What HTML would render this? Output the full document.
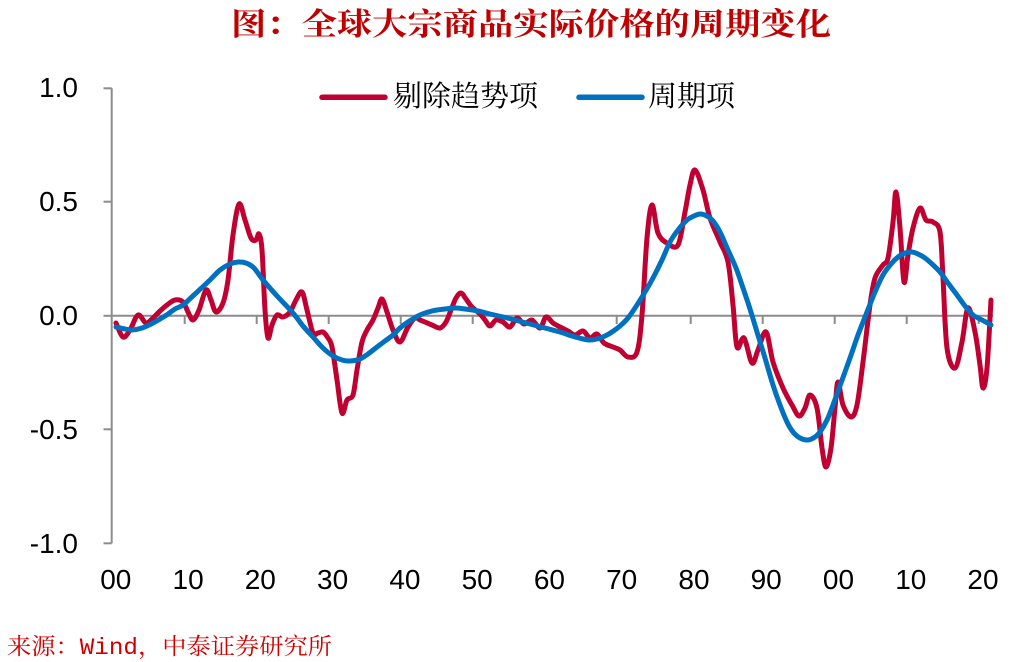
<!DOCTYPE html>
<html><head><meta charset="utf-8"><style>
html,body{margin:0;padding:0;background:#fff;}
svg{display:block;}
</style></head><body>
<svg id="chart" width="1011" height="662" viewBox="0 0 1011 662" xmlns="http://www.w3.org/2000/svg">
<rect width="1011" height="662" fill="#fff"/>
<text x="231" y="35" font-family="'Liberation Serif','Noto Serif CJK SC',serif" font-weight="bold" font-size="31" fill="#C00000" textLength="600" lengthAdjust="spacingAndGlyphs">图：全球大宗商品实际价格的周期变化</text>
<g stroke="#8c8c8c" stroke-width="2" fill="none">
<line x1="111.7" y1="88.3" x2="111.7" y2="543.3"/>
<line x1="103.5" y1="88.3" x2="111.7" y2="88.3"/>
<line x1="103.5" y1="201.7" x2="111.7" y2="201.7"/>
<line x1="103.5" y1="315.8" x2="111.7" y2="315.8"/>
<line x1="103.5" y1="429.3" x2="111.7" y2="429.3"/>
<line x1="103.5" y1="543.3" x2="111.7" y2="543.3"/>
<line x1="111.7" y1="315.8" x2="993" y2="315.8"/>
<line x1="184.7" y1="315.8" x2="184.7" y2="324"/>
<line x1="256.7" y1="315.8" x2="256.7" y2="324"/>
<line x1="328.7" y1="315.8" x2="328.7" y2="324"/>
<line x1="400.7" y1="315.8" x2="400.7" y2="324"/>
<line x1="472.7" y1="315.8" x2="472.7" y2="324"/>
<line x1="544.7" y1="315.8" x2="544.7" y2="324"/>
<line x1="616.7" y1="315.8" x2="616.7" y2="324"/>
<line x1="690.7" y1="315.8" x2="690.7" y2="324"/>
<line x1="762.7" y1="315.8" x2="762.7" y2="324"/>
<line x1="834.7" y1="315.8" x2="834.7" y2="324"/>
<line x1="906.7" y1="315.8" x2="906.7" y2="324"/>
<line x1="978.7" y1="315.8" x2="978.7" y2="324"/>
</g>
<g font-family="'Liberation Sans',Arial,sans-serif" font-size="28" fill="#000" text-anchor="end">
<text x="78" y="97">1.0</text>
<text x="78" y="211">0.5</text>
<text x="78" y="325">0.0</text>
<text x="78" y="439">-0.5</text>
<text x="78" y="553">-1.0</text>
</g>
<g font-family="'Liberation Sans',Arial,sans-serif" font-size="28" fill="#000" text-anchor="middle">
<text x="115.8" y="589">00</text>
<text x="188.1" y="589">10</text>
<text x="260.3" y="589">20</text>
<text x="332.6" y="589">30</text>
<text x="404.9" y="589">40</text>
<text x="477.2" y="589">50</text>
<text x="549.4" y="589">60</text>
<text x="621.7" y="589">70</text>
<text x="694" y="589">80</text>
<text x="766.2" y="589">90</text>
<text x="838.5" y="589">00</text>
<text x="910.8" y="589">10</text>
<text x="983" y="589">20</text>
</g>
<line x1="322" y1="97.3" x2="385" y2="97.3" stroke="#C00030" stroke-width="5.5" stroke-linecap="round"/>
<text x="393" y="106" font-family="'Liberation Serif','Noto Serif CJK SC',serif" font-size="29" fill="#000" textLength="145" lengthAdjust="spacingAndGlyphs">剔除趋势项</text>
<line x1="579" y1="97.3" x2="642" y2="97.3" stroke="#0070C0" stroke-width="5.5" stroke-linecap="round"/>
<text x="648" y="106" font-family="'Liberation Serif','Noto Serif CJK SC',serif" font-size="29" fill="#000" textLength="87" lengthAdjust="spacingAndGlyphs">周期项</text>
<polyline class="ser" fill="none" stroke="#C00030" stroke-width="5" stroke-linejoin="round" stroke-linecap="round" points="116,323 123,337 130,330 138,315 146,323 153,318 160,311 167,305 175,300 183,302 188,312 193,320 199,310 206,290 211,300 216,312 223,303 228,280 233,235 239,204 245,220 251,238 256,240 259,234 262,250 265,310 268,338 272,325 277,315 283,317 290,312 296,300 302,292 307,310 313,333 318,333 323,332 328,338 332,347 337,380 342,413 347,400 353,395 357,370 362,342 367,330 373,320 378,308 382,299 387,312 393,330 400,342 408,327 415,318 420,320 425,322 432,325 440,328 446,322 451,310 456,298 461,293 466,299 472,307 480,314 485,320 490,326 496,320 503,322 510,327 517,318 524,324 532,320 540,328 546,317 553,323 560,327 568,331 575,335 583,331 590,338 597,334 604,343 613,347 620,350 628,357 637,352 642,315 647,238 652,205 658,233 667,243 678,245 685,212 690,185 695,170 703,190 710,218 720,242 728,262 733,305 737,347 744,338 752,363 758,350 766,332 773,362 783,388 792,405 799,416 805,408 810,395 817,408 822,448 826,467 831,448 835,408 838,382 843,405 851,417 857,405 863,362 870,305 875,278 883,265 888,258 893,222 896,192 900,228 904,282 908,255 913,228 920,208 926,220 933,222 940,232 943,278 947,348 955,368 962,342 968,308 975,332 980,365 983,388 987,368 991,300"/>
<polyline class="ser" fill="none" stroke="#0070C0" stroke-width="5" stroke-linejoin="round" stroke-linecap="round" points="116,327 125,329 132,330 142,328 153,323 165,316 175,309 183,305 195,294 210,280 220,270 230,264 238,262 246,263 254,268 263,280 278,297 293,313 303,326 313,337 323,348 333,356 342,360 350,361 360,359 368,354 377,347 385,341 393,335 400,328 408,322 420,315 432,311 445,309 455,308 465,309 478,311 490,314 503,317 515,320 530,324 545,328 560,332 572,336 583,339 590,340 597,339 605,336 612,332 620,326 628,318 637,305 645,292 653,278 662,260 670,242 678,230 687,220 694,216 700,214 707,216 713,221 720,232 728,250 736,268 743,288 750,309 757,332 765,358 773,385 780,405 787,422 793,432 800,438 808,440 815,437 820,432 827,420 833,405 841,383 850,358 858,335 867,312 875,292 883,275 891,264 898,257 905,253 912,252 918,254 925,258 932,264 940,272 948,283 957,295 965,306 973,315 982,320 991,325"/>
<text x="7" y="654" font-family="'Liberation Mono','Noto Serif CJK SC',monospace" font-size="23" fill="#D00000" textLength="325" lengthAdjust="spacingAndGlyphs">来源：Wind，中泰证券研究所</text>
</svg>
<script>
(function(){
  try{
    var ns="http://www.w3.org/2000/svg";
    var pls=document.querySelectorAll("polyline.ser");
    for(var k=0;k<pls.length;k++){
      var pl=pls[k];
      var raw=pl.getAttribute("points").trim().split(/\s+/);
      var p=[];
      for(var i=0;i<raw.length;i++){var c=raw[i].split(",");p.push([+c[0],+c[1]]);}
      var d="M"+p[0][0]+","+p[0][1];
      var t=0.5;
      for(var i=0;i<p.length-1;i++){
        var p0=p[i>0?i-1:i],p1=p[i],p2=p[i+1],p3=p[i+2<p.length?i+2:i+1];
        var c1x=p1[0]+(p2[0]-p0[0])*t/3,c1y=p1[1]+(p2[1]-p0[1])*t/3;
        var c2x=p2[0]-(p3[0]-p1[0])*t/3,c2y=p2[1]-(p3[1]-p1[1])*t/3;
        d+=" C"+c1x.toFixed(2)+","+c1y.toFixed(2)+" "+c2x.toFixed(2)+","+c2y.toFixed(2)+" "+p2[0]+","+p2[1];
      }
      var path=document.createElementNS(ns,"path");
      path.setAttribute("d",d);
      path.setAttribute("fill","none");
      path.setAttribute("stroke",pl.getAttribute("stroke"));
      path.setAttribute("stroke-width",pl.getAttribute("stroke-width"));
      path.setAttribute("stroke-linejoin","round");
      path.setAttribute("stroke-linecap","round");
      pl.parentNode.insertBefore(path,pl);
      pl.parentNode.removeChild(pl);
    }
  }catch(e){}
})();
</script>
</body></html>
